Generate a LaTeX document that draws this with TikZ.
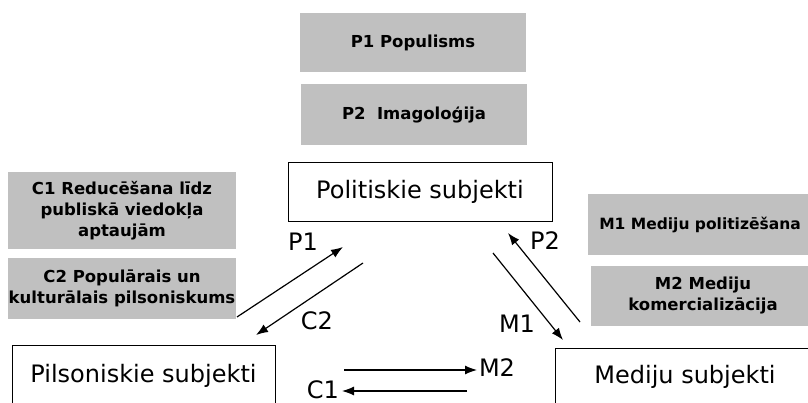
\documentclass[tikz,border=0pt]{standalone}
\usepackage{fontspec}
\setmainfont{DejaVu Sans}
\usetikzlibrary{arrows.meta}
\definecolor{boxgray}{RGB}{192,192,192}

\begin{document}
\begin{tikzpicture}[x=1pt,y=-1pt,
    graybox/.style={fill=boxgray,inner sep=0pt,align=center,font=\fontsize{16.5}{21}\selectfont\bfseries},
    subj/.style={draw,line width=0.9pt,inner sep=0pt,font=\fontsize{24}{28}\selectfont},
    lbl/.style={inner sep=0pt,font=\fontsize{24}{28}\selectfont},
    flow/.style={line width=1.2pt,-{Latex[length=12pt,width=9pt]}}]
    \useasboundingbox (0,0) rectangle (808,403);
    \clip (0,0) rectangle (808,403);

    % political side
    \node[graybox,minimum width=226pt,minimum height=59pt] (p1box) at (413,42.5) {P1 Populisms};
    \node[graybox,minimum width=226pt,minimum height=61pt] (p2box) at (414,114.5) {P2~~Imagoloģija};
    \node[subj,minimum width=264pt,minimum height=59pt] (polit) at (420,191.5) {Politiskie subjekti};

    % civic side
    \node[graybox,minimum width=228pt,minimum height=77pt] (c1box) at (122,210.5) {C1 Reducēšana līdz\\publiskā viedokļa\\aptaujām};
    \node[graybox,minimum width=228pt,minimum height=61pt] (c2box) at (122,288.5) {C2 Populārais un\\kulturālais pilsoniskums};
    \node[subj,minimum width=263pt,minimum height=62pt] (pils) at (143.5,376) {Pilsoniskie subjekti};

    % media side
    \node[graybox,minimum width=225pt,minimum height=61pt,font=\fontsize{15.5}{21}\selectfont\bfseries] (m1box) at (700,224.5) {M1 Mediju politizēšana};
    \node[graybox,minimum width=224pt,minimum height=60pt] (m2box) at (703,296) {M2 Mediju\\komercializācija};
    \node[subj,minimum width=260pt,minimum height=58pt] (medi) at (685,377) {Mediju subjekti};

    % arrows
    \coordinate (p1s) at (237,317);
    \coordinate (p1e) at (343,247);
    \coordinate (c2s) at (363,263);
    \coordinate (c2e) at (256,335);
    \coordinate (p2s) at (580,322);
    \coordinate (p2e) at (508,233);
    \coordinate (m1s) at (493,253);
    \coordinate (m1e) at (563,340);
    \coordinate (m2s) at (344,370);
    \coordinate (m2e) at (477,370);
    \coordinate (c1s) at (467,391);
    \coordinate (c1e) at (342,391);
    \draw[flow] (p1s) -- (p1e);
    \draw[flow] (c2s) -- (c2e);
    \draw[flow] (p2s) -- (p2e);
    \draw[flow] (m1s) -- (m1e);
    \draw[flow] (m2s) -- (m2e);
    \draw[flow] (c1s) -- (c1e);

    \node[lbl] (p1lbl) at (303,242) {P1};
    \node[lbl] (c2lbl) at (317,321) {C2};
    \node[lbl] (p2lbl) at (545,241) {P2};
    \node[lbl] (m1lbl) at (517,324) {M1};
    \node[lbl] (m2lbl) at (497,368) {M2};
    \node[lbl] (c1lbl) at (323,390) {C1};
\end{tikzpicture}
\end{document}
